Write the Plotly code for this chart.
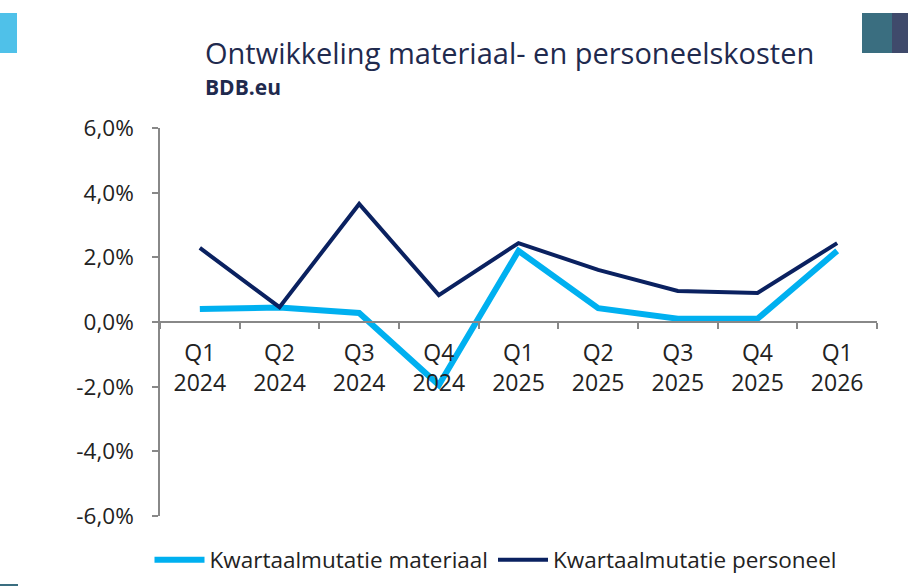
import plotly.graph_objects as go

categories = ["Q1<br>2024", "Q2<br>2024", "Q3<br>2024", "Q4<br>2024",
              "Q1<br>2025", "Q2<br>2025", "Q3<br>2025", "Q4<br>2025", "Q1<br>2026"]
materiaal = [0.40, 0.45, 0.28, -1.95, 2.20, 0.43, 0.10, 0.10, 2.20]
personeel = [2.29, 0.46, 3.65, 0.83, 2.44, 1.61, 0.96, 0.90, 2.44]
y_ticks = [-6, -4, -2, 0, 2, 4, 6]
y_ticktext = ["-6,0%", "-4,0%", "-2,0%", "0,0%", "2,0%", "4,0%", "6,0%"]

FONT = "Open Sans"
W, H = 908, 586
L, R, T, B = 160, 31, 128, 70
PW, PH = W - L - R, H - T - B

def fx(px):
    return (px - L) / PW

def fy(py):
    return 1 + (T - py) / PH

fig = go.Figure()
fig.add_trace(go.Scatter(x=categories, y=materiaal, mode="lines",
                         name="Kwartaalmutatie materiaal",
                         line=dict(color="#00B0F0", width=6)))
fig.add_trace(go.Scatter(x=categories, y=personeel, mode="lines",
                         name="Kwartaalmutatie personeel",
                         line=dict(color="#0A2160", width=4)))

fig.update_layout(
    width=W, height=H,
    margin=dict(l=L, r=R, t=T, b=B, autoexpand=False),
    plot_bgcolor="white", paper_bgcolor="white",
    font=dict(family=FONT, color="#222222", size=22),
    showlegend=True,
    legend=dict(orientation="h", x=fx(496), xanchor="center",
                y=fy(560), yanchor="middle",
                font=dict(size=22.5, color="#222222"), itemwidth=50,
                traceorder="normal", bgcolor="rgba(0,0,0,0)"),
    xaxis=dict(type="category", range=[-0.5, 8.5], showgrid=False,
               showline=True, linecolor="#888888", linewidth=1.5,
               ticks="outside", ticklen=6, tickcolor="#888888", tickwidth=1.5,
               tickson="boundaries", anchor="free", position=0.5,
               ticklabelstandoff=11,
               tickfont=dict(size=23, color="#222222"), zeroline=False),
    yaxis=dict(range=[-6, 6], tickvals=y_ticks, ticktext=y_ticktext,
               showgrid=False, showline=True, linecolor="#888888", linewidth=1.5,
               ticks="outside", ticklen=6, tickcolor="#888888", tickwidth=1.5,
               ticklabelstandoff=14,
               zeroline=False, tickfont=dict(size=22.5, color="#222222")),
)

fig.add_annotation(text="Ontwikkeling materiaal- en personeelskosten",
                   xref="paper", yref="paper", x=fx(203), y=fy(52),
                   xanchor="left", yanchor="middle", showarrow=False,
                   font=dict(size=29, color="#1F2A4E", family=FONT))
fig.add_annotation(text="<b>BDB.eu</b>",
                   xref="paper", yref="paper", x=fx(203), y=fy(87),
                   xanchor="left", yanchor="middle", showarrow=False,
                   font=dict(size=21, color="#1F2A4E", family=FONT))

# decorative corner blocks
for x0, x1, y0, y1, col in [(0, 17, 13, 53, "#4FC1E9"),
                            (862, 892, 13, 53, "#3A6E80"),
                            (892, 908, 13, 53, "#3F4A6B"),
                            (0, 18, 584, 586, "#3A6E80")]:
    fig.add_shape(type="rect", xref="paper", yref="paper",
                  x0=fx(x0), x1=fx(x1), y0=fy(y1), y1=fy(y0),
                  fillcolor=col, line=dict(width=0))

fig.write_html("out.html", config={"displayModeBar": False},
               post_script="document.body.style.margin='0';")
